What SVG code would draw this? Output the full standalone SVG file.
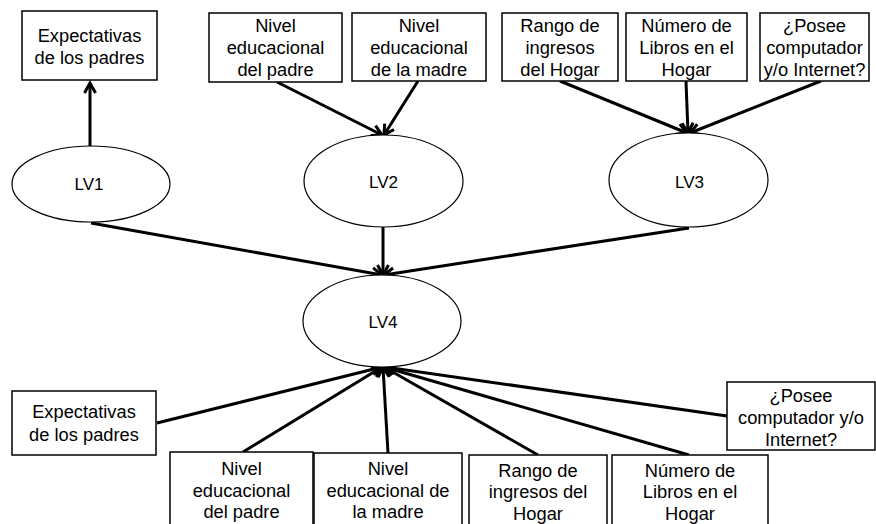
<svg xmlns="http://www.w3.org/2000/svg" width="876" height="524" viewBox="0 0 876 524">
<style>
.box{fill:#fff;stroke:#000;stroke-width:1.5}
.ell{fill:#fff;stroke:#000;stroke-width:1.2}
.t{font-family:"Liberation Sans",Arial,sans-serif;font-size:18.3px;fill:#000;text-anchor:middle}
.lv{font-family:"Liberation Sans",Arial,sans-serif;font-size:17px;fill:#000;text-anchor:middle}
.c{stroke:#000;stroke-width:3;fill:none;marker-end:url(#arr)}
</style>
<defs>
<marker id="arr" markerUnits="userSpaceOnUse" markerWidth="16" markerHeight="16" viewBox="0 0 16 16" refX="13" refY="8" orient="auto">
<path d="M3,2.5 L13,8 L3,13.5" fill="none" stroke="#000" stroke-width="3"/>
</marker>
</defs>
<rect width="876" height="524" fill="#fff"/>
<g id="connectors">
<line class="c" x1="90" y1="146" x2="90" y2="83"/>
<line class="c" x1="277" y1="82" x2="382" y2="135"/>
<line class="c" x1="418" y1="81" x2="384" y2="135"/>
<line class="c" x1="560" y1="81" x2="687" y2="133"/>
<line class="c" x1="686" y1="81" x2="688" y2="133"/>
<line class="c" x1="821" y1="81" x2="690" y2="133"/>
<line class="c" x1="91" y1="223" x2="382" y2="275"/>
<line class="c" x1="383" y1="227" x2="383" y2="275"/>
<line class="c" x1="689" y1="228" x2="384" y2="275"/>
<line class="c" x1="157" y1="423" x2="382" y2="367"/>
<line class="c" x1="243" y1="452" x2="382" y2="367"/>
<line class="c" x1="388" y1="453" x2="383" y2="367"/>
<line class="c" x1="538" y1="455" x2="384" y2="367"/>
<line class="c" x1="689" y1="455" x2="384" y2="367"/>
<line class="c" x1="727" y1="416" x2="385" y2="367"/>
</g>
<g id="top-expectativas">
<rect class="box" x="22" y="11" width="135" height="69"/>
<text class="t" x="89.5" y="42">Expectativas</text>
<text class="t" x="89.5" y="64">de los padres</text>
</g>
<g id="top-nivel-padre">
<rect class="box" x="209" y="13" width="133" height="69"/>
<text class="t" x="275.5" y="32">Nivel</text>
<text class="t" x="275.5" y="54">educacional</text>
<text class="t" x="275.5" y="76">del padre</text>
</g>
<g id="top-nivel-madre">
<rect class="box" x="352" y="13" width="134" height="68"/>
<text class="t" x="419" y="32">Nivel</text>
<text class="t" x="419" y="54">educacional</text>
<text class="t" x="419" y="76">de la madre</text>
</g>
<g id="top-rango">
<rect class="box" x="502" y="13" width="116" height="68"/>
<text class="t" x="560" y="32">Rango de</text>
<text class="t" x="560" y="54">ingresos</text>
<text class="t" x="560" y="76">del Hogar</text>
</g>
<g id="top-numero">
<rect class="box" x="626" y="13" width="121" height="68"/>
<text class="t" x="686.5" y="32">Número de</text>
<text class="t" x="686.5" y="54">Libros en el</text>
<text class="t" x="686.5" y="76">Hogar</text>
</g>
<g id="top-posee">
<rect class="box" x="760" y="13" width="109" height="68"/>
<text class="t" x="814.5" y="32">¿Posee</text>
<text class="t" x="814.5" y="54">computador</text>
<text class="t" x="814.5" y="76">y/o Internet?</text>
</g>
<g id="LV1">
<ellipse class="ell" cx="91" cy="184" rx="79" ry="38"/>
<text class="lv" x="89" y="190">LV1</text>
</g>
<g id="LV2">
<ellipse class="ell" cx="383.5" cy="181" rx="79.5" ry="46"/>
<text class="lv" x="383.5" y="188">LV2</text>
</g>
<g id="LV3">
<ellipse class="ell" cx="688.5" cy="180" rx="79.5" ry="47"/>
<text class="lv" x="689.5" y="188">LV3</text>
</g>
<g id="LV4">
<ellipse class="ell" cx="382" cy="321" rx="79" ry="46"/>
<text class="lv" x="383" y="328">LV4</text>
</g>
<g id="bot-expectativas">
<rect class="box" x="12" y="391" width="144" height="64"/>
<text class="t" x="84" y="418">Expectativas</text>
<text class="t" x="84" y="441">de los padres</text>
</g>
<g id="bot-nivel-padre">
<rect class="box" x="170" y="452" width="143" height="80"/>
<text class="t" x="241.5" y="475">Nivel</text>
<text class="t" x="241.5" y="497">educacional</text>
<text class="t" x="241.5" y="518">del padre</text>
</g>
<g id="bot-nivel-madre">
<rect class="box" x="314" y="453" width="148" height="80"/>
<text class="t" x="388" y="475">Nivel</text>
<text class="t" x="388" y="497">educacional de</text>
<text class="t" x="388" y="518">la madre</text>
</g>
<g id="bot-rango">
<rect class="box" x="469" y="455" width="138" height="80"/>
<text class="t" x="538" y="477">Rango de</text>
<text class="t" x="538" y="498">ingresos del</text>
<text class="t" x="538" y="520">Hogar</text>
</g>
<g id="bot-numero">
<rect class="box" x="612" y="455" width="156" height="80"/>
<text class="t" x="690" y="477">Número de</text>
<text class="t" x="690" y="498">Libros en el</text>
<text class="t" x="690" y="520">Hogar</text>
</g>
<g id="bot-posee">
<rect class="box" x="727" y="382" width="148" height="68"/>
<text class="t" x="801" y="402">¿Posee</text>
<text class="t" x="801" y="424">computador y/o</text>
<text class="t" x="801" y="446">Internet?</text>
</g>
</svg>
